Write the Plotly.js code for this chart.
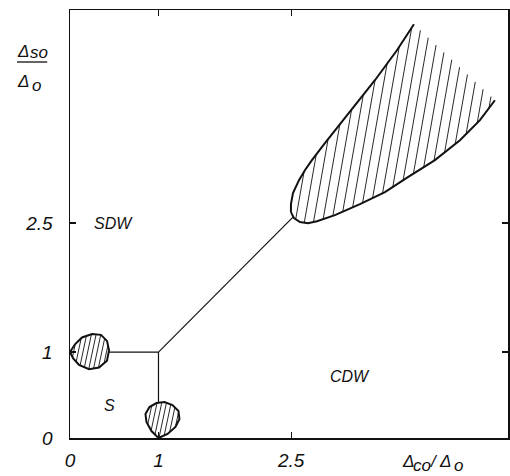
<!DOCTYPE html>
<html>
<head>
<meta charset="utf-8">
<script src="https://cdn.plot.ly/plotly-3.0.1.min.js"></script>
<style>html,body{margin:0;padding:0;background:#fff;}#chart{width:510px;height:476px;}</style>
</head>
<body>
<div id="chart"></div>
<script>
// ---- data ----
const tickVals = [0, 1, 2.5];
const tickText = ['0', '1', '2.5'];

// phase boundaries
const lineS_SDW_x = [0.44, 1];      // horizontal S / SDW boundary
const lineS_SDW_y = [1, 1];
const lineS_CDW_x = [1, 1];         // vertical S / CDW boundary
const lineS_CDW_y = [1, 0.41];
const lineSDW_CDW_x = [1, 2.52];    // SDW / CDW boundary
const lineSDW_CDW_y = [1, 2.57];

// large coexistence region (upper and lower edges, both starting at the tip)
const lobeUpperX = [2.497, 2.497, 2.520, 2.588, 2.655, 2.734, 2.881, 3.051, 3.243, 3.446, 3.695, 3.887];
const lobeUpperY = [2.628, 2.721, 2.849, 3.000, 3.116, 3.233, 3.430, 3.651, 3.895, 4.163, 4.512, 4.814];
const lobeLowerX = [2.497, 2.531, 2.599, 2.689, 2.791, 2.994, 3.277, 3.559, 3.819, 4.124, 4.407, 4.633, 4.802];
const lobeLowerY = [2.628, 2.558, 2.512, 2.500, 2.523, 2.593, 2.721, 2.860, 3.035, 3.233, 3.465, 3.698, 3.930];

// small drop at (0,1)
const dropLeftX = [0, 0.056, 0.136, 0.249, 0.350, 0.418, 0.441, 0.418, 0.328, 0.215, 0.102, 0.034, 0];
const dropLeftY = [1, 1.09, 1.17, 1.21, 1.20, 1.13, 1.02, 0.90, 0.82, 0.80, 0.85, 0.93, 1];
// small drop at (1,0)
const dropBottomX = [1, 0.921, 0.864, 0.853, 0.898, 0.977, 1.068, 1.158, 1.226, 1.237, 1.192, 1.102, 1];
const dropBottomY = [0, 0.081, 0.186, 0.279, 0.360, 0.407, 0.419, 0.384, 0.314, 0.221, 0.128, 0.047, 0];

// region labels
const regionNames = ['SDW', 'CDW', 'S'];
const regionX = [0.49, 3.16, 0.45];
const regionY = [2.50, 0.71, 0.38];

// axis title pieces (symbol + subscript)
const yTitleParts = ['Δ', 'so', 'Δ', 'o'];
const xTitleParts = ['Δ', 'co', '/', 'Δ', 'o'];

// ---- helpers ----
const XR = [0, 4.95], YR = [0, 4.98];
const PW = 438, PH = 428;
const UX = PW / (XR[1] - XR[0]), UY = PH / (YR[1] - YR[0]);

function hatch(xs, ys, angleDeg, spacing) {
  const a = angleDeg * Math.PI / 180;
  const dx = Math.cos(a), dy = Math.sin(a);
  const nx = -dy, ny = dx;
  const P = xs.map((x, i) => [x * UX, ys[i] * UY]);
  const n = P.length;
  const cs = P.map(p => p[0] * nx + p[1] * ny);
  const cmin = Math.min(...cs), cmax = Math.max(...cs);
  const ox = [], oy = [];
  for (let c = cmin + spacing / 2; c < cmax; c += spacing) {
    const ts = [];
    for (let i = 0; i < n; i++) {
      const j = (i + 1) % n;
      const cp = cs[i], cq = cs[j];
      if ((cp - c) * (cq - c) < 0) {
        const t = (c - cp) / (cq - cp);
        const x = P[i][0] + t * (P[j][0] - P[i][0]);
        const y = P[i][1] + t * (P[j][1] - P[i][1]);
        ts.push(x * dx + y * dy);
      }
    }
    ts.sort((p, q) => p - q);
    for (let k = 0; k + 1 < ts.length; k += 2) {
      ox.push((c * nx + ts[k] * dx) / UX, (c * nx + ts[k + 1] * dx) / UX, null);
      oy.push((c * ny + ts[k] * dy) / UY, (c * ny + ts[k + 1] * dy) / UY, null);
    }
  }
  return {x: ox, y: oy};
}

const lobePolyX = lobeUpperX.concat(lobeLowerX.slice().reverse());
const lobePolyY = lobeUpperY.concat(lobeLowerY.slice().reverse());
const hLobe = hatch(lobePolyX, lobePolyY, 80, 9);
const hDropL = hatch(dropLeftX, dropLeftY, 78, 4.6);
const hDropB = hatch(dropBottomX, dropBottomY, 78, 4.6);

const ink = '#111';
const thin = {color: ink, width: 1.2};
const hat = {color: ink, width: 0.9};
const thick = {color: ink, width: 2};

function tr(x, y, line) {
  return {x: x, y: y, type: 'scatter', mode: 'lines', line: line, hoverinfo: 'skip', showlegend: false, connectgaps: false};
}

const data = [
  tr(hLobe.x, hLobe.y, hat),
  tr(hDropL.x, hDropL.y, hat),
  tr(hDropB.x, hDropB.y, hat),
  tr(lineS_SDW_x, lineS_SDW_y, thin),
  tr(lineS_CDW_x, lineS_CDW_y, thin),
  tr(lineSDW_CDW_x, lineSDW_CDW_y, thin),
  tr(lobeUpperX, lobeUpperY, thick),
  tr(lobeLowerX, lobeLowerY, thick),
  tr(dropLeftX, dropLeftY, thick),
  tr(dropBottomX, dropBottomY, thick)
];

const fam = 'Liberation Sans, DejaVu Sans, sans-serif';
const font = (size) => ({family: fam, size: size, color: ink, style: 'italic'});

const annotations = regionNames.map((t, i) => ({
  x: regionX[i], y: regionY[i], xref: 'x', yref: 'y', text: t, showarrow: false,
  font: font(16), xanchor: 'center', yanchor: 'middle'
}));

// positions of title pieces in pixels of the figure
const px2paper = (px, py) => [(px - 70) / PW, (438 - py) / PH];
function addPiece(text, px, py, size) {
  const p = px2paper(px, py);
  annotations.push({xref: 'paper', yref: 'paper', x: p[0], y: p[1], text: text, showarrow: false,
    font: font(size), xanchor: 'center', yanchor: 'middle'});
}
const yPos = [[23, 51], [39, 53], [23, 81], [36, 85]];
yTitleParts.forEach((t, i) => addPiece(t, yPos[i][0], yPos[i][1], 17));
const xPos = [[408, 461], [422, 465], [434, 461], [445, 461], [458, 465]];
xTitleParts.forEach((t, i) => addPiece(t, xPos[i][0], xPos[i][1], 17));

const axisCommon = {
  showgrid: false, zeroline: false, showline: true, mirror: 'ticks',
  linecolor: ink, linewidth: 1.5, ticks: 'inside', ticklen: 6, tickcolor: ink, tickwidth: 1.3,
  tickmode: 'array', tickvals: tickVals, ticktext: tickText, tickfont: font(19), fixedrange: true
};

const layout = {
  width: 510, height: 476,
  margin: {l: 70, r: 2, t: 10, b: 38},
  paper_bgcolor: '#fff', plot_bgcolor: '#fff',
  xaxis: Object.assign({}, axisCommon, {range: XR, ticklabelstandoff: 5}),
  yaxis: Object.assign({}, axisCommon, {range: YR, ticklabelstandoff: 12}),
  annotations: annotations,
  shapes: [{type: 'line', xref: 'paper', yref: 'paper', x0: -0.121, x1: -0.052, y0: 0.8785, y1: 0.8785, line: {color: ink, width: 1.3}}],
  showlegend: false
};

Plotly.newPlot('chart', data, layout, {staticPlot: true, displayModeBar: false});
</script>
</body>
</html>
